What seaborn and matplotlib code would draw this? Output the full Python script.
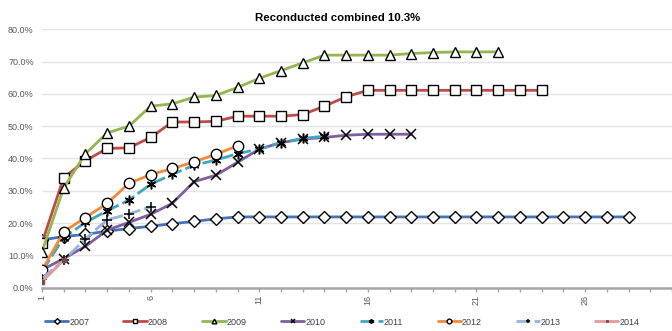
import matplotlib
matplotlib.use("Agg")
import matplotlib.pyplot as plt
import matplotlib.ticker as mticker
import numpy as np
import pandas as pd
import seaborn as sns

# Cumulative share per year, by period index (percent)
years = ["2007", "2008", "2009", "2010", "2011", "2012", "2013", "2014"]

s2007 = [14.8, 15.8, 16.5, 17.5, 18.3, 19.0, 19.8, 20.5, 21.3, 21.9,
         21.9, 21.9, 21.9, 21.9, 21.9, 21.9, 21.9, 21.9, 21.9, 21.9,
         21.9, 21.9, 21.9, 21.9, 21.9, 21.9, 21.9, 21.9]
s2008 = [13.9, 34.1, 39.3, 43.1, 43.3, 46.5, 51.3, 51.3, 51.5, 53.1,
         53.1, 53.1, 53.6, 56.2, 59.1, 61.1, 61.1, 61.1, 61.1, 61.1,
         61.1, 61.1, 61.1, 61.1]
s2009 = [11.1, 30.9, 41.5, 47.9, 50.0, 56.2, 56.9, 59.0, 59.5, 62.0,
         64.8, 67.2, 69.6, 72.0, 72.0, 72.0, 72.0, 72.5, 72.8, 73.0,
         73.0, 73.0]
s2010 = [5.5, 9.0, 12.8, 17.8, 20.2, 22.7, 26.1, 32.8, 34.8, 38.8,
         42.9, 44.9, 46.0, 46.5, 47.2, 47.5, 47.5, 47.5]
s2011 = [5.0, 15.5, 20.2, 23.8, 27.1, 32.0, 35.1, 37.9, 39.5, 41.5,
         42.9, 44.9, 46.2, 46.9]
s2012 = [5.4, 17.3, 21.7, 26.1, 32.3, 35.0, 36.9, 38.9, 41.3, 43.9]
s2013 = [2.8, 8.5, 15.1, 21.0, 22.8, 25.1]
s2014 = [1.8, 8.5]

series = [s2007, s2008, s2009, s2010, s2011, s2012, s2013, s2014]

title = "Reconducted combined 10.3%"
x_ticks = [1, 6, 11, 16, 21, 26]
y_ticks = [0, 10, 20, 30, 40, 50, 60, 70, 80]

colors = ["#4673B5", "#BE4B48", "#92B650", "#7D5FA0", "#3FA7C2",
          "#F28A3A", "#98B3DC", "#E29B99"]
markers = ["D", "s", "^", "x", (6, 2, 0), "o", "+", "s"]
msizes = [6.5, 7.0, 7.5, 7.0, 7.0, 7.5, 7.5, 2.5]
dashes = [None, None, None, None, (5, 1.5), None, (5, 1.5), None]

sns.set_style("white")
plt.rcParams["font.family"] = ["Liberation Sans", "DejaVu Sans"]

fig = plt.figure(figsize=(6.72, 3.31), dpi=100)
ax = fig.add_axes([0.0625, 0.131, 0.9375, 0.7805])

for year, vals, col, mk, ms, ds in zip(years, series, colors, markers, msizes, dashes):
    df = pd.DataFrame({"period": np.arange(1, len(vals) + 1), "value": vals})
    kw = dict(color=col, linewidth=2.0, marker=mk, markersize=ms,
              markerfacecolor="white", markeredgecolor="black",
              markeredgewidth=1.0, ax=ax, legend=False)
    if mk in ("x", "+") or isinstance(mk, tuple):
        kw["markeredgewidth"] = 1.1
    if year == "2014":
        kw["markerfacecolor"] = "#7a4a4a"
        kw["markeredgecolor"] = "#7a4a4a"
    sns.lineplot(data=df, x="period", y="value", **kw)
    if ds is not None:
        ax.lines[-1].set_dashes(ds)
    ax.lines[-1].set_label(year)

ax.set_xlim(1, 30)
ax.set_ylim(0, 80)
ax.set_yticks(y_ticks)
ax.yaxis.set_major_formatter(mticker.FuncFormatter(lambda v, p: f"{v:.1f}%"))
ax.set_xticks(x_ticks)
ax.set_xticklabels([str(t) for t in x_ticks], rotation=90)
ax.set_xticks(np.arange(1, 31), minor=True)
ax.tick_params(axis="y", labelsize=6.5, labelcolor="#595959", length=0, pad=6)
ax.tick_params(axis="x", which="both", labelsize=6.5, labelcolor="#595959",
               length=3, width=1, color="#A6A6A6", direction="out", pad=2,
               bottom=True)
ax.set_xlabel("")
ax.set_ylabel("")
ax.grid(axis="y", color="#E3E3E3", linewidth=1.0)
ax.set_axisbelow(True)
for side in ("left", "right", "top"):
    ax.spines[side].set_visible(False)
ax.spines["bottom"].set_color("#A6A6A6")
ax.spines["bottom"].set_linewidth(1.8)

fig.text(0.503, 0.945, title, ha="center", va="center",
         fontsize=8.2, fontweight="bold", color="black")

handles = ax.lines[:len(years)]
leg = fig.legend(handles, years, loc="center", bbox_to_anchor=(0.509, 0.027),
                 ncol=8, frameon=False, fontsize=6.5, markerscale=0.45,
                 handlelength=2.6, handletextpad=0.1, columnspacing=3.8)
for t in leg.get_texts():
    t.set_color("#404040")

fig.savefig("out.png", dpi=100)
